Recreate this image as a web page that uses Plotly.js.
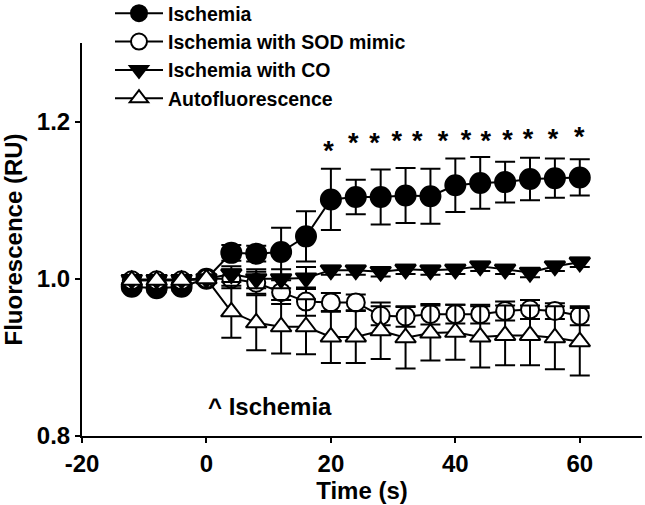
<!DOCTYPE html>
<html>
<head>
<meta charset="utf-8">
<script src="https://cdn.plot.ly/plotly-3.0.1.min.js"></script>
<style>html,body{margin:0;padding:0;background:#fff;}#chart{width:645px;height:505px;}</style>
</head>
<body>
<div id="chart"></div>
<script>
const time = [-12,-8,-4,0,4,8,12,16,20,24,28,32,36,40,44,48,52,56,60];

const ischemia    = [0.990,0.988,0.990,1.000,1.033,1.032,1.034,1.054,1.101,1.104,1.104,1.106,1.105,1.119,1.122,1.123,1.127,1.128,1.129];
const ischemiaErr = [0.005,0.005,0.005,0.003,0.010,0.010,0.031,0.032,0.039,0.022,0.035,0.035,0.035,0.034,0.033,0.026,0.027,0.025,0.023];

const sod    = [0.998,0.998,0.998,1.000,1.000,0.995,0.983,0.971,0.970,0.970,0.953,0.952,0.955,0.955,0.955,0.959,0.961,0.959,0.953];
const sodErr = [0.004,0.004,0.004,0.003,0.012,0.014,0.015,0.018,0.012,0.010,0.012,0.013,0.013,0.012,0.012,0.012,0.012,0.010,0.012];

const co    = [0.999,0.999,0.999,1.000,1.006,1.000,1.000,1.001,1.011,1.011,1.009,1.012,1.011,1.012,1.016,1.012,1.008,1.016,1.021];
const coErr = [0.004,0.004,0.004,0.003,0.010,0.012,0.012,0.014,0.006,0.006,0.006,0.006,0.006,0.006,0.006,0.006,0.006,0.006,0.006];

const auto    = [0.998,0.998,0.998,1.000,0.958,0.944,0.939,0.939,0.926,0.926,0.934,0.925,0.931,0.932,0.926,0.928,0.928,0.925,0.920];
const autoErr = [0.004,0.004,0.004,0.003,0.033,0.035,0.034,0.035,0.033,0.033,0.036,0.039,0.035,0.035,0.039,0.038,0.038,0.040,0.043];

const starX = [19.6,23.6,27.0,30.6,33.9,38.0,41.7,44.9,48.4,51.7,55.7,59.9];
const starY = [1.160,1.170,1.170,1.173,1.173,1.172,1.174,1.173,1.174,1.175,1.175,1.177];

const seriesNames = ["Ischemia","Ischemia with SOD mimic","Ischemia with CO","Autofluorescence"];
const xTickVals = [-20,0,20,40,60];
const yTickVals = [0.8,1.0,1.2];

const FONT = "Liberation Sans, Arial, Helvetica, sans-serif";

function errBar(arr){
  return {type:'data', array:arr, visible:true, color:'#000', thickness:2, width:10};
}

const traces = [
  {x:time, y:ischemia, error_y:errBar(ischemiaErr), name:seriesNames[0], legendgroup:'a',
   mode:'lines+markers', line:{color:'#000', width:2},
   marker:{symbol:'circle', size:20, color:'#000', line:{color:'#000', width:2}}},
  {x:time, y:sod, error_y:errBar(sodErr), name:seriesNames[1], legendgroup:'b',
   mode:'lines+markers', line:{color:'#000', width:2},
   marker:{symbol:'circle', size:18, color:'#fff', line:{color:'#000', width:2}}},
  {x:time, y:co, error_y:errBar(coErr), name:seriesNames[2], legendgroup:'c',
   mode:'lines+markers', line:{color:'#000', width:2},
   marker:{symbol:'triangle-down', size:18, color:'#000', line:{color:'#000', width:2}}},
  {x:time, y:auto, error_y:errBar(autoErr), name:seriesNames[3], legendgroup:'d',
   mode:'lines+markers', line:{color:'#000', width:2},
   marker:{symbol:'triangle-up', size:18, color:'#fff', line:{color:'#000', width:2}}},
  {x:starX, y:starY, mode:'text', text:starX.map(()=>'*'), showlegend:false, hoverinfo:'skip',
   textfont:{family:FONT, size:27, color:'#000'}, textposition:'middle center'}
];

const layout = {
  width:645, height:505,
  margin:{l:82, r:3, t:43, b:69, pad:0, autoexpand:false},
  paper_bgcolor:'#fff', plot_bgcolor:'#fff',
  font:{family:FONT, color:'#000', size:20, weight:'bold'},
  showlegend:true,
  legend:{xref:'container', yref:'paper', x:110/645, y:(436+6)/393, xanchor:'left', yanchor:'top',
    font:{family:FONT, size:19.5, color:'#000', weight:'bold'}, bgcolor:'rgba(0,0,0,0)',
    traceorder:'grouped', tracegroupgap:0, itemwidth:48},
  xaxis:{range:[-20,70], tickvals:xTickVals, ticktext:xTickVals.map(v=>String(v)),
    showgrid:false, zeroline:false, showline:true, linecolor:'#000', linewidth:2,
    ticks:'outside', ticklen:5, tickwidth:2, tickcolor:'#000',
    tickfont:{family:FONT, size:24, color:'#000', weight:'bold'},
    title:{text:'Time (s)', font:{family:FONT, size:24, color:'#000', weight:'bold'}, standoff:2}},
  yaxis:{range:[0.8,1.3], tickvals:yTickVals, ticktext:yTickVals.map(v=>v.toFixed(1)),
    showgrid:false, zeroline:false, showline:true, linecolor:'#000', linewidth:2,
    ticks:'outside', ticklen:5, tickwidth:2, tickcolor:'#000',
    tickfont:{family:FONT, size:24, color:'#000', weight:'bold'}},
  annotations:[
    {x:0, y:0.838, xref:'x', yref:'y', xanchor:'left', yanchor:'middle', showarrow:false,
     text:'^ Ischemia', font:{family:FONT, size:24, color:'#000', weight:'bold'}},
    {x:-69/560, y:0.5, xref:'paper', yref:'paper', xanchor:'center', yanchor:'middle', showarrow:false,
     textangle:-90, text:'Fluorescence (RU)', font:{family:FONT, size:24, color:'#000', weight:'bold'}}
  ]
};

Plotly.newPlot('chart', traces, layout, {displayModeBar:false, staticPlot:true});
</script>
</body>
</html>
